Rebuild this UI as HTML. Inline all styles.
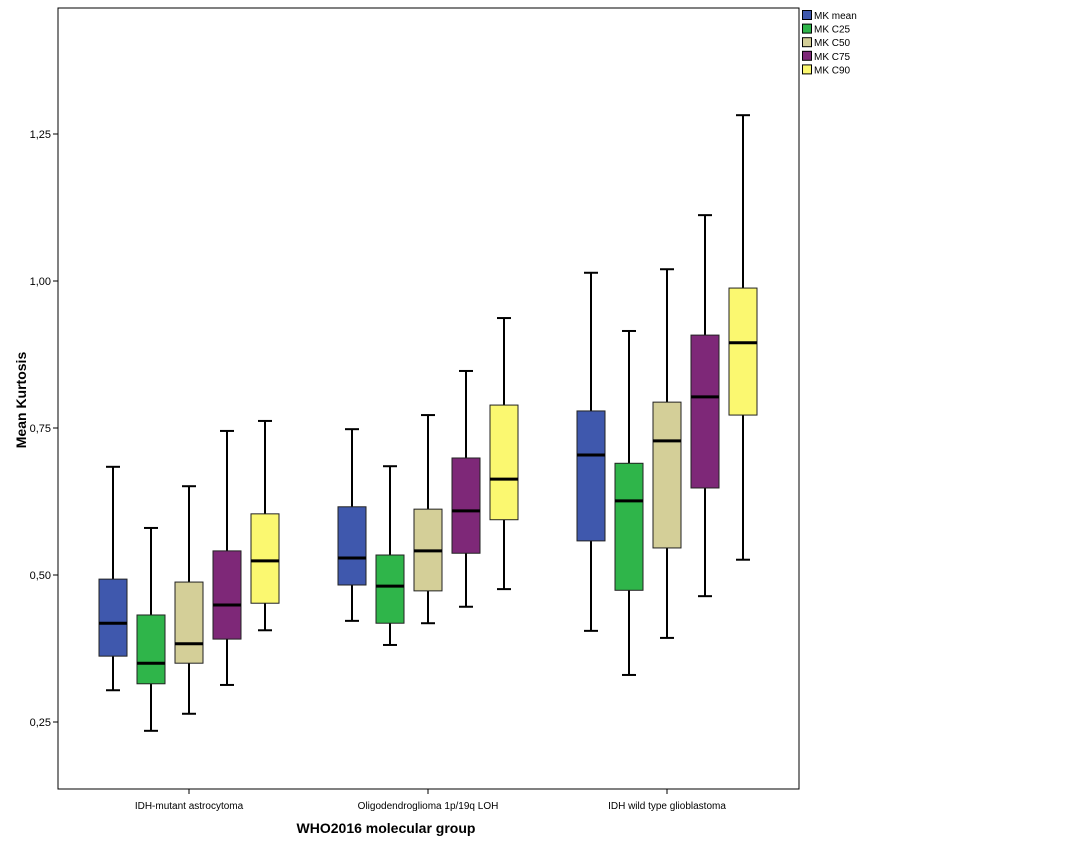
<!DOCTYPE html>
<html><head><meta charset="utf-8"><style>
html,body{margin:0;padding:0;background:#fff;}
svg text{font-family:"Liberation Sans",Arial,sans-serif;}
</style></head><body>
<svg id="chart" width="1066" height="853" xmlns="http://www.w3.org/2000/svg">
<rect x="58" y="8" width="741" height="781" fill="#fff" stroke="#000" stroke-width="1"/>
<g id="yaxis"></g>
<g id="xaxis"></g>
<g id="boxes"></g>
<text x="26" y="400" transform="rotate(-90 26 400)" text-anchor="middle" font-size="14" font-weight="bold">Mean Kurtosis</text>
<text x="386" y="833" text-anchor="middle" font-size="14" font-weight="bold">WHO2016 molecular group</text>
<g id="legend"></g>
</svg>
<script>
const categories = ["IDH-mutant astrocytoma","Oligodendroglioma 1p/19q LOH","IDH wild type glioblastoma"];
const seriesNames = ["MK mean","MK C25","MK C50","MK C75","MK C90"];
const seriesColors = ["#3f58ad","#2fb54a","#d4cf98","#7e2878","#fbf870"];
const yTicks = [0.25,0.50,0.75,1.00,1.25];
const yTickLabels = ["0,25","0,50","0,75","1,00","1,25"];
// each: [low, q1, median, q3, high] per series per category
const mkMean = [[0.304,0.362,0.418,0.493,0.684],[0.422,0.483,0.529,0.616,0.748],[0.405,0.558,0.704,0.779,1.014]];
const mkC25  = [[0.235,0.315,0.350,0.432,0.580],[0.381,0.418,0.481,0.534,0.685],[0.330,0.474,0.626,0.690,0.915]];
const mkC50  = [[0.264,0.350,0.383,0.488,0.651],[0.418,0.473,0.541,0.612,0.772],[0.393,0.546,0.728,0.794,1.020]];
const mkC75  = [[0.313,0.391,0.449,0.541,0.745],[0.446,0.537,0.609,0.699,0.847],[0.464,0.648,0.803,0.908,1.112]];
const mkC90  = [[0.406,0.452,0.524,0.604,0.762],[0.476,0.594,0.663,0.789,0.937],[0.526,0.772,0.895,0.988,1.282]];
const series = [mkMean,mkC25,mkC50,mkC75,mkC90];

const NS="http://www.w3.org/2000/svg";
function y(v){return 722-(v-0.25)*588;}
function groupX(i){return 189+i*239;}
function boxX(g,s){return groupX(g)+(s-2)*38;}
function mk(tag,attrs,parent){const e=document.createElementNS(NS,tag);for(const k in attrs)e.setAttribute(k,attrs[k]);parent.appendChild(e);return e;}

const ya=document.getElementById('yaxis');
yTicks.forEach((t,i)=>{
  const l=mk('line',{x1:53,x2:58,y1:y(t),y2:y(t),stroke:'#000'},ya);
  
  
  const tx=mk('text',{x:51,y:y(t)+4,'text-anchor':'end','font-size':11},ya);
  tx.textContent=yTickLabels[i];
  
  
});
const xa=document.getElementById('xaxis');
categories.forEach((c,i)=>{
  const l=mk('line',{x1:groupX(i),x2:groupX(i),y1:789,y2:794,stroke:'#000'},xa);
  
  
  const tx=mk('text',{x:groupX(i),y:809,'text-anchor':'middle','font-size':10},xa);
  tx.textContent=c;
  
  
});
const bx=document.getElementById('boxes');
series.forEach((ser,s)=>{
  ser.forEach((d,g)=>{
    const cx=boxX(g,s), w=28;
    const grp=mk('g',{},bx);
    
    
    mk('line',{x1:cx,x2:cx,y1:y(d[4]),y2:y(d[3]),stroke:'#000','stroke-width':2},grp);
    mk('line',{x1:cx,x2:cx,y1:y(d[1]),y2:y(d[0]),stroke:'#000','stroke-width':2},grp);
    mk('line',{x1:cx-7,x2:cx+7,y1:y(d[4]),y2:y(d[4]),stroke:'#000','stroke-width':2},grp);
    mk('line',{x1:cx-7,x2:cx+7,y1:y(d[0]),y2:y(d[0]),stroke:'#000','stroke-width':2},grp);
    mk('rect',{x:cx-w/2,y:y(d[3]),width:w,height:y(d[1])-y(d[3]),fill:seriesColors[s],stroke:'#222','stroke-width':1},grp);
    mk('line',{x1:cx-w/2,x2:cx+w/2,y1:y(d[2]),y2:y(d[2]),stroke:'#000','stroke-width':3},grp);
  });
});
const lg=document.getElementById('legend');
seriesNames.forEach((n,i)=>{
  const yy=10+i*13.6;
  const r=mk('rect',{x:802.5,y:yy+0.5,width:9,height:9,fill:seriesColors[i],stroke:'#000','stroke-width':1},lg);
  
  
  const t=mk('text',{x:814,y:yy+9,'font-size':10},lg);
  t.textContent=n;
  
  
});
</script>
</body></html>
